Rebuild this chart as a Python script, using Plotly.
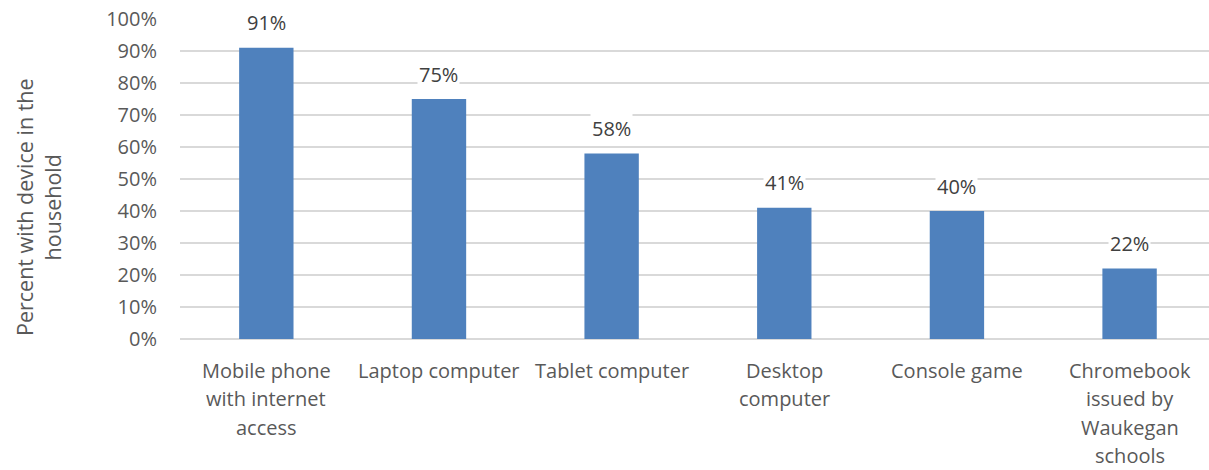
import plotly.graph_objects as go

# Devices present in the household
categories = [
    "Mobile phone<br>with internet<br>access",
    "Laptop computer",
    "Tablet computer",
    "Desktop<br>computer",
    "Console game",
    "Chromebook<br>issued by<br>Waukegan<br>schools",
]
values = [0.91, 0.75, 0.58, 0.41, 0.40, 0.22]
y_ticks = [0, 0.1, 0.2, 0.3, 0.4, 0.5, 0.6, 0.7, 0.8, 0.9, 1.0]
y_tick_labels = [f"{int(round(v * 100))}%" for v in y_ticks]

FONT = "Open Sans"
SIZE = 20
TEXT = "#595959"
LABEL = "#404040"
BAR = "#4F81BD"
GRID = "#D9D9D9"

W, H = 1209, 470
ML, MR, MT, MB = 180, 0, 19, 131
plot_w = W - ML - MR
plot_h = H - MT - MB

xs = list(range(len(categories)))

fig = go.Figure(
    go.Bar(
        x=xs,
        y=values,
        marker=dict(color=BAR, line=dict(width=0)),
        width=0.315,
        hoverinfo="skip",
    )
)

annotations = []
# value labels above each bar, on a white box that interrupts the gridlines
for x, v in zip(xs, values):
    annotations.append(
        dict(
            x=x, y=v, xref="x", yref="y",
            text=f"{int(round(v * 100))}%",
            showarrow=False, yshift=25,
            font=dict(family=FONT, size=SIZE, color=LABEL),
            bgcolor="white", borderpad=1,
        )
    )

# category labels, one line at a time for wider line spacing
for x, label in zip(xs, categories):
    for i, line in enumerate(label.split("<br>")):
        annotations.append(
            dict(
                x=x, y=0, xref="x", yref="y",
                text=line, showarrow=False,
                yanchor="middle", yshift=-31 - 28.5 * i,
                font=dict(family=FONT, size=SIZE, color=TEXT),
            )
        )

# y-axis title on two lines, placed in pixels and converted to paper units
title_cx, title_cy = 38, 207
annotations.append(
    dict(
        x=(title_cx - ML) / plot_w,
        y=(H - MB - title_cy) / plot_h,
        xref="paper", yref="paper",
        xanchor="center", yanchor="middle",
        text="Percent with device in the<br>household",
        showarrow=False, textangle=-90,
        font=dict(family=FONT, size=SIZE + 1.5, color=TEXT),
    )
)

fig.update_layout(
    width=W,
    height=H,
    margin=dict(l=ML, r=MR, t=MT, b=MB),
    paper_bgcolor="white",
    plot_bgcolor="white",
    showlegend=False,
    annotations=annotations,
    xaxis=dict(
        range=[-0.5, 5.46],
        showticklabels=False,
        showgrid=False,
        zeroline=False,
        showline=False,
        fixedrange=True,
    ),
    yaxis=dict(
        range=[0, 1.0],
        tickvals=y_ticks,
        ticktext=y_tick_labels,
        tickfont=dict(family=FONT, size=SIZE, color=TEXT),
        ticklabelstandoff=22,
        showgrid=True,
        gridcolor=GRID,
        gridwidth=1.5,
        zeroline=True,
        zerolinecolor=GRID,
        zerolinewidth=1.5,
        showline=False,
        fixedrange=True,
    ),
)

fig.write_html("out.html")
